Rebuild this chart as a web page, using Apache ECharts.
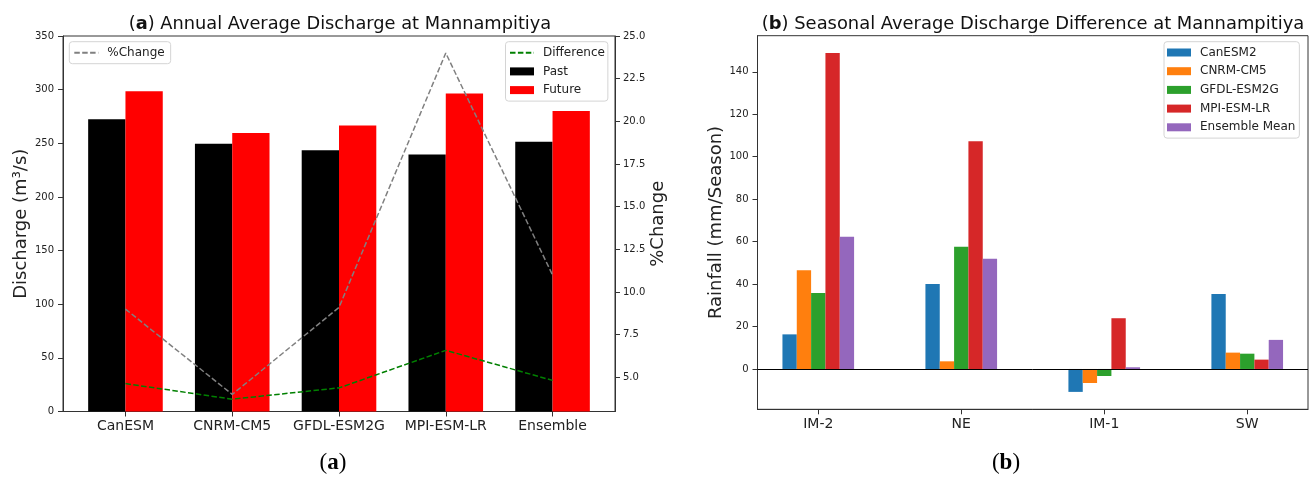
<!DOCTYPE html>
<html>
<head>
<meta charset="utf-8">
<script src="https://cdn.jsdelivr.net/npm/echarts@6/dist/echarts.min.js"></script>
<style>
  html, body { margin: 0; padding: 0; background: #fff; }
  #chart { width: 1310px; height: 477px; }
</style>
</head>
<body>
<div id="chart"></div>
<script>
// Panel (a): annual average discharge per climate model
const models = ['CanESM', 'CNRM-CM5', 'GFDL-ESM2G', 'MPI-ESM-LR', 'Ensemble'];
const past = [272.5, 249.5, 243.5, 239.5, 251.5];
const future = [298.5, 259.5, 266.5, 296.5, 280];
const difference = [26, 11.5, 22, 57, 29];
const pctChange = [9.0, 4.0, 9.1, 24.0, 11.0];
const dischargeTicks = [0, 50, 100, 150, 200, 250, 300, 350];
const pctTicks = [5.0, 7.5, 10.0, 12.5, 15.0, 17.5, 20.0, 22.5, 25.0];

// Panel (b): seasonal average difference per model
const seasons = ['IM-2', 'NE', 'IM-1', 'SW'];
const canesm2 = [16.3, 40.0, -10.8, 35.3];
const cnrmCm5 = [46.5, 3.6, -6.6, 7.7];
const gfdlEsm2g = [35.8, 57.6, -3.3, 7.2];
const mpiEsmLr = [148.9, 107.3, 23.9, 4.4];
const ensembleMean = [62.3, 51.9, 0.8, 13.7];
const rainfallTicks = [0, 20, 40, 60, 80, 100, 120, 140];

const FONT = 'DejaVu Sans';
const FRAME = '#333';
const idx = arr => arr.map((v, i) => [i, v]);

const chart = echarts.init(document.getElementById('chart'), null, { renderer: 'canvas' });

const tickLabel = { fontFamily: FONT, fontSize: 10, color: '#222' };
const catLabel = { fontFamily: FONT, fontSize: 14, color: '#222' };
const axisName = { fontFamily: FONT, fontSize: 18, color: '#222' };
const legendBase = {
  orient: 'vertical',
  itemWidth: 24,
  itemHeight: 8,
  itemGap: 6.7,
  borderColor: '#d4d4d4',
  borderWidth: 1,
  borderRadius: 3,
  backgroundColor: 'rgba(255,255,255,0.85)',
  textStyle: { fontFamily: FONT, fontSize: 12, color: '#222', padding: [0, 0, 0, 4] },
  selectedMode: false
};
// dashed line handles without a marker
const lineHandle = name => ({ name: name, itemStyle: { opacity: 0 } });

const dash = [5.5, 2.4];

const option = {
  animation: false,
  grid: [
    { left: 63, top: 36, width: 552, height: 375.5, show: true, borderColor: FRAME, borderWidth: 1, backgroundColor: 'transparent' },
    { left: 757.5, top: 35.7, width: 550.5, height: 373.6, show: true, borderColor: FRAME, borderWidth: 1, backgroundColor: 'transparent' }
  ],
  xAxis: [
    {
      gridIndex: 0, type: 'value', min: -0.585, max: 4.585,
      axisLine: { show: true, onZero: false, lineStyle: { color: FRAME } },
      axisTick: { show: true, length: 5, customValues: [0, 1, 2, 3, 4], lineStyle: { color: FRAME } },
      axisLabel: Object.assign({ margin: 8, customValues: [0, 1, 2, 3, 4], formatter: v => models[Math.round(v)] }, catLabel),
      splitLine: { show: false }
    },
    {
      gridIndex: 1, type: 'value', min: -0.425, max: 3.425,
      axisLine: { show: true, onZero: false, lineStyle: { color: FRAME } },
      axisTick: { show: true, length: 5, customValues: [0, 1, 2, 3], lineStyle: { color: FRAME } },
      axisLabel: Object.assign({ margin: 8, customValues: [0, 1, 2, 3], formatter: v => seasons[Math.round(v)] }, catLabel),
      splitLine: { show: false }
    }
  ],
  yAxis: [
    {
      gridIndex: 0, type: 'value', min: 0, max: 350,
      name: 'Discharge (m³/s)', nameLocation: 'middle', nameRotate: 90, nameGap: 33,
      nameTextStyle: axisName,
      axisLine: { show: true, onZero: false, lineStyle: { color: FRAME } },
      axisTick: { show: true, length: 5, customValues: dischargeTicks, lineStyle: { color: FRAME } },
      axisLabel: Object.assign({ margin: 9, customValues: dischargeTicks }, tickLabel),
      splitLine: { show: false }
    },
    {
      gridIndex: 0, type: 'value', position: 'right', min: 3, max: 25,
      name: '%Change', nameLocation: 'middle', nameRotate: 90, nameGap: 32,
      nameTextStyle: axisName,
      axisLine: { show: true, onZero: false, lineStyle: { color: FRAME } },
      axisTick: { show: true, length: 5, customValues: pctTicks, lineStyle: { color: FRAME } },
      axisLabel: Object.assign({ margin: 8, customValues: pctTicks, formatter: v => v.toFixed(1) }, tickLabel),
      splitLine: { show: false }
    },
    {
      gridIndex: 1, type: 'value', min: -19, max: 157,
      name: 'Rainfall (mm/Season)', nameLocation: 'middle', nameRotate: 90, nameGap: 31,
      nameTextStyle: axisName,
      axisLine: { show: true, onZero: false, lineStyle: { color: FRAME } },
      axisTick: { show: true, length: 5, customValues: rainfallTicks, lineStyle: { color: FRAME } },
      axisLabel: Object.assign({ margin: 9, customValues: rainfallTicks }, tickLabel),
      splitLine: { show: false }
    }
  ],
  legend: [
    Object.assign({}, legendBase, { left: 69.3, top: 41.7, padding: [5, 6, 5, 4], data: [lineHandle('%Change')] }),
    Object.assign({}, legendBase, {
      left: 505.5, top: 41.7, padding: [5, 3, 5, 3.5],
      data: [lineHandle('Difference'), { name: 'Past', icon: 'rect' }, { name: 'Future', icon: 'rect' }]
    }),
    Object.assign({}, legendBase, {
      left: 1164, top: 41.7, padding: [4.8, 4, 4.8, 3],
      data: ['CanESM2', 'CNRM-CM5', 'GFDL-ESM2G', 'MPI-ESM-LR', 'Ensemble Mean'].map(n => ({ name: n, icon: 'rect' }))
    })
  ],
  series: [
    { name: 'Past', type: 'bar', xAxisIndex: 0, yAxisIndex: 0, data: idx(past), barWidth: 37.3, barGap: '0%', itemStyle: { color: '#000000' } },
    { name: 'Future', type: 'bar', xAxisIndex: 0, yAxisIndex: 0, data: idx(future), barWidth: 37.3, barGap: '0%', itemStyle: { color: '#ff0000' } },
    { name: 'Difference', type: 'line', xAxisIndex: 0, yAxisIndex: 0, data: idx(difference), symbol: 'none', z: 4,
      lineStyle: { color: '#008000', width: 1.5, type: dash }, itemStyle: { color: '#008000' } },
    { name: '%Change', type: 'line', xAxisIndex: 0, yAxisIndex: 1, data: idx(pctChange), symbol: 'none', z: 4,
      lineStyle: { color: '#808080', width: 1.5, type: dash }, itemStyle: { color: '#808080' } },

    { name: 'CanESM2', type: 'bar', xAxisIndex: 1, yAxisIndex: 2, data: idx(canesm2), barWidth: 14.33, barGap: '0%', itemStyle: { color: '#1f77b4' } },
    { name: 'CNRM-CM5', type: 'bar', xAxisIndex: 1, yAxisIndex: 2, data: idx(cnrmCm5), barWidth: 14.33, barGap: '0%', itemStyle: { color: '#ff7f0e' } },
    { name: 'GFDL-ESM2G', type: 'bar', xAxisIndex: 1, yAxisIndex: 2, data: idx(gfdlEsm2g), barWidth: 14.33, barGap: '0%', itemStyle: { color: '#2ca02c' } },
    { name: 'MPI-ESM-LR', type: 'bar', xAxisIndex: 1, yAxisIndex: 2, data: idx(mpiEsmLr), barWidth: 14.33, barGap: '0%', itemStyle: { color: '#d62728' } },
    { name: 'Ensemble Mean', type: 'bar', xAxisIndex: 1, yAxisIndex: 2, data: idx(ensembleMean), barWidth: 14.33, barGap: '0%', itemStyle: { color: '#9467bd' },
      markLine: { silent: true, symbol: 'none', label: { show: false }, z: 5,
        lineStyle: { color: '#000', width: 1, type: 'solid' }, data: [{ yAxis: 0 }] } }
  ],
  graphic: [
    { type: 'text', x: 340, y: 24, z: 10, style: {
        text: '{n|(}{b|a}{n|) Annual Average Discharge at Mannampitiya}', align: 'center', verticalAlign: 'middle',
        rich: { n: { fontFamily: FONT, fontSize: 17.8, fill: '#111' }, b: { fontFamily: FONT, fontSize: 17.8, fontWeight: 'bold', fill: '#111' } } } },
    { type: 'text', x: 1033, y: 24, z: 10, style: {
        text: '{n|(}{b|b}{n|) Seasonal Average Discharge Difference at Mannampitiya}', align: 'center', verticalAlign: 'middle',
        rich: { n: { fontFamily: FONT, fontSize: 17.9, fill: '#111' }, b: { fontFamily: FONT, fontSize: 17.9, fontWeight: 'bold', fill: '#111' } } } },
    { type: 'text', x: 333, y: 463, z: 10, style: {
        text: '{n|(}{b|a}{n|)}', align: 'center', verticalAlign: 'middle',
        rich: { n: { fontFamily: 'Liberation Serif', fontSize: 23, fill: '#000' }, b: { fontFamily: 'Liberation Serif', fontSize: 23, fontWeight: 'bold', fill: '#000' } } } },
    { type: 'text', x: 1006, y: 463, z: 10, style: {
        text: '{n|(}{b|b}{n|)}', align: 'center', verticalAlign: 'middle',
        rich: { n: { fontFamily: 'Liberation Serif', fontSize: 23, fill: '#000' }, b: { fontFamily: 'Liberation Serif', fontSize: 23, fontWeight: 'bold', fill: '#000' } } } }
  ]
};

chart.setOption(option);
</script>
</body>
</html>
